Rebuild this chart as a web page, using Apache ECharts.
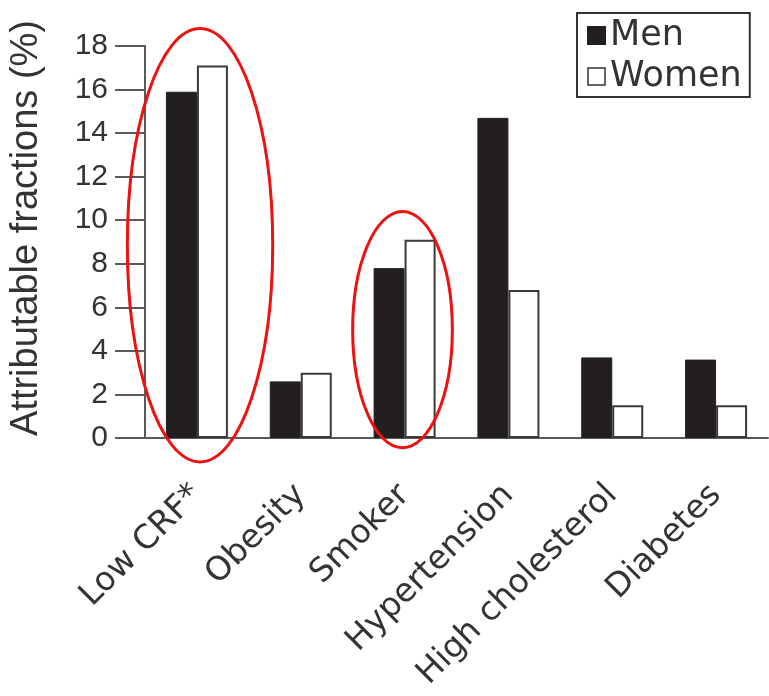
<!DOCTYPE html>
<html>
<head>
<meta charset="utf-8">
<script src="https://cdn.jsdelivr.net/npm/echarts@6/dist/echarts.min.js"></script>
<style>
  html, body { margin: 0; padding: 0; background: #fff; }
  #chart { width: 769px; height: 696px; }
</style>
</head>
<body>
<div id="chart"></div>
<script>
// risk factors on the x axis
const categories = ['Low CRF*', 'Obesity', 'Smoker', 'Hypertension', 'High cholesterol', 'Diabetes']
// attributable fractions (%)
const menValues = [15.9, 2.6, 7.8, 14.7, 3.7, 3.6]
const womenValues = [17.1, 3.0, 9.1, 6.8, 1.5, 1.5]
const yTicks = { min: 0, max: 18, interval: 2 }

// red ellipses drawn over two groups (category index, half width in bands, top / bottom in %)
const highlightCenters = [0.03, 1.98]
const highlightHalfWidths = [0.70, 0.48]
const highlightTops = [18.8, 10.4]
const highlightBottoms = [-1.1, -0.45]

const chart = echarts.init(document.getElementById('chart'))

const axisGray = '#5a5a5a'
const textGray = '#333'

const option = {
  animation: false,
  grid: {
    left: 145,
    right: 1,
    top: 46,
    bottom: 258,
    containLabel: false,
    outerBoundsMode: 'none'
  },
  legend: {
    orient: 'vertical',
    left: 577,
    top: 13,
    padding: [5, 8, 3, 10],
    borderColor: '#333',
    borderWidth: 2,
    itemWidth: 17,
    itemHeight: 17,
    itemGap: 6,
    icon: 'rect',
    textStyle: {
      fontFamily: 'DejaVu Sans',
      fontSize: 35,
      lineHeight: 34,
      color: textGray
    },
    data: [
      { name: 'Men', itemStyle: { color: '#231f20' } },
      { name: 'Women', itemStyle: { color: '#fff', borderColor: '#333', borderWidth: 1.5 } }
    ]
  },
  xAxis: {
    type: 'category',
    data: categories,
    axisLine: { lineStyle: { color: axisGray, width: 2 } },
    axisTick: { length: 29, lineStyle: { color: axisGray, width: 2 } },
    axisLabel: {
      rotate: 45,
      margin: 52,
      interval: 0,
      fontFamily: 'DejaVu Sans',
      fontSize: 33,
      color: textGray
    }
  },
  yAxis: {
    type: 'value',
    min: yTicks.min,
    max: yTicks.max,
    interval: yTicks.interval,
    name: 'Attributable fractions (%)',
    nameLocation: 'middle',
    nameGap: 99,
    nameMoveOverlap: false,
    nameTextStyle: {
      fontFamily: 'Liberation Sans',
      fontSize: 38,
      color: textGray,
      padding: [0, 0, 0, 28]
    },
    splitLine: { show: false },
    axisLine: { show: true, lineStyle: { color: axisGray, width: 2 } },
    axisTick: { show: true, length: 30, lineStyle: { color: axisGray, width: 2 } },
    axisLabel: {
      margin: 37,
      fontFamily: 'Liberation Sans',
      fontSize: 30,
      color: textGray
    }
  },
  series: [
    {
      name: 'Men',
      type: 'bar',
      barWidth: 31,
      barGap: '0%',
      data: menValues,
      itemStyle: { color: '#231f20', borderColor: '#231f20', borderWidth: 1 }
    },
    {
      name: 'Women',
      type: 'bar',
      barWidth: 31,
      data: womenValues,
      itemStyle: { color: '#fff', borderColor: '#3a3a3a', borderWidth: 2 }
    }
  ]
}

chart.setOption(option)

// place the ellipses through the axes' own scales
const x0 = chart.convertToPixel({ xAxisIndex: 0 }, categories[0])
const x1 = chart.convertToPixel({ xAxisIndex: 0 }, categories[1])
const band = x1 - x0
const ellipses = highlightCenters.map((c, i) => {
  const yTop = chart.convertToPixel({ yAxisIndex: 0 }, highlightTops[i])
  const yBottom = chart.convertToPixel({ yAxisIndex: 0 }, highlightBottoms[i])
  return {
    type: 'ellipse',
    z: 100,
    shape: {
      cx: x0 + c * band,
      cy: (yTop + yBottom) / 2,
      rx: highlightHalfWidths[i] * band,
      ry: (yBottom - yTop) / 2
    },
    style: { fill: null, stroke: '#ee1111', lineWidth: 3 }
  }
})
chart.setOption({ graphic: ellipses })
</script>
</body>
</html>
